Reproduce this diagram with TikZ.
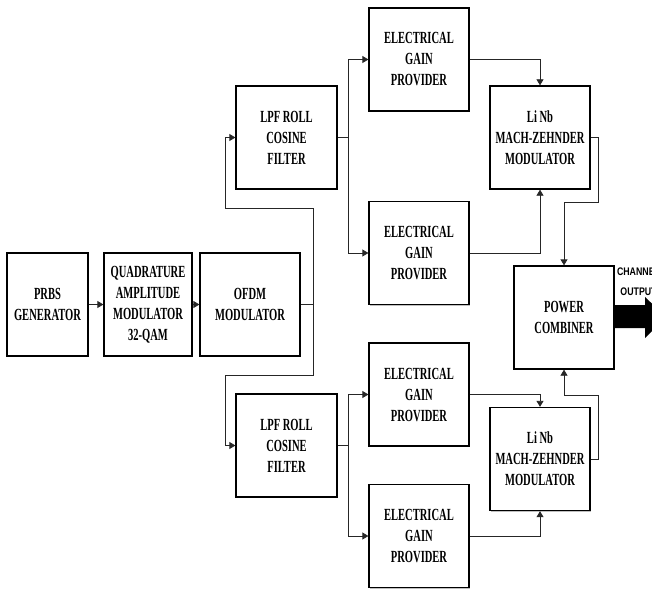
\documentclass[tikz,border=0pt]{standalone}
\usepackage{fontspec}
\newfontfamily\boxfont[FakeStretch=0.62]{Liberation Serif}
\newfontfamily\labfont[FakeStretch=0.8]{Liberation Sans}
\usetikzlibrary{arrows.meta,shadows}
\begin{document}
\begin{tikzpicture}[x=1pt,y=-1pt,
  blk/.style={draw=black,line width=1.3pt,fill=white,minimum height=103pt,inner sep=0pt,
    align=center,font=\boxfont\bfseries\fontsize{17}{21}\selectfont,
    drop shadow={shadow xshift=1.2pt,shadow yshift=-1.2pt,fill=black!25,opacity=1}},
  conn/.style={draw=black!85,line width=0.8pt},
  arr/.style={conn,-{Triangle[length=6pt,width=7pt]}}]
\useasboundingbox (0,0) rectangle (652,588);
\clip (0,0) rectangle (652,588);
% blocks
\node[blk,minimum width=81pt]  (prbs) at (47.5,304.5) {PRBS\\GENERATOR};
\node[blk,minimum width=88pt]  (qam)  at (148,304.5) {QUADRATURE\\AMPLITUDE\\MODULATOR\\32-QAM};
\node[blk,minimum width=100pt] (ofdm) at (250,304.5) {OFDM\\MODULATOR};
\node[blk,minimum width=101pt] (lpf1) at (286.5,137.5) {LPF ROLL\\COSINE\\FILTER};
\node[blk,minimum width=101pt] (lpf2) at (286.5,445.5) {LPF ROLL\\COSINE\\FILTER};
\node[blk,minimum width=100pt] (egp1) at (419,59.5) {ELECTRICAL\\GAIN\\PROVIDER};
\node[blk,minimum width=100pt] (egp2) at (419,253) {ELECTRICAL\\GAIN\\PROVIDER};
\node[blk,minimum width=100pt] (egp3) at (419,394.5) {ELECTRICAL\\GAIN\\PROVIDER};
\node[blk,minimum width=100pt] (egp4) at (419,536) {ELECTRICAL\\GAIN\\PROVIDER};
\node[blk,minimum width=100pt] (mzm1) at (540,137.5) {Li Nb\\MACH-ZEHNDER\\MODULATOR};
\node[blk,minimum width=100pt] (mzm2) at (540,459) {Li Nb\\MACH-ZEHNDER\\MODULATOR};
\node[blk,minimum width=100pt] (pc)   at (564,317.5) {POWER\\COMBINER};
% junction points
\coordinate (s)  at (313,304.5);
\coordinate (j1) at (313,208);
\coordinate (j2) at (225,208);
\coordinate (j3) at (313,375);
\coordinate (j4) at (225,375);
\coordinate (b1) at (348,137.5);
\coordinate (b2) at (348,445.5);
\coordinate (m1) at (598,137.5);
\coordinate (m1b) at (598,202);
\coordinate (m2) at (598,459);
\coordinate (m2b) at (598,395);
% connectors
\draw[arr] (prbs.east) -- (qam.west);
\draw[arr] (qam.east) -- (ofdm.west);
\draw[conn] (ofdm.east) -- (s);
\draw[arr] (s) -- (j1) -- (j2) |- (lpf1.west);
\draw[arr] (s) -- (j3) -- (j4) |- (lpf2.west);
\draw[conn] (lpf1.east) -- (b1);
\draw[arr] (b1) |- (egp1.west);
\draw[arr] (b1) |- (egp2.west);
\draw[conn] (lpf2.east) -- (b2);
\draw[arr] (b2) |- (egp3.west);
\draw[arr] (b2) |- (egp4.west);
\draw[arr] (egp1.east) -| (mzm1.north);
\draw[arr] (egp2.east) -| (mzm1.south);
\draw[arr] (egp3.east) -| (mzm2.north);
\draw[arr] (egp4.east) -| (mzm2.south);
\draw[arr] (mzm1.east) -- (m1) -- (m1b) -| (pc.north);
\draw[arr] (mzm2.east) -- (m2) -- (m2b) -| (pc.south);
% output arrow
\fill[black] (pc.east |- 0,305) -- (645,305) -- (645,297) -- (666,317) -- (645,338) -- (645,328) -- (pc.east |- 0,328) -- cycle;
\node[font=\labfont\bfseries\fontsize{11}{20}\selectfont,align=center,inner sep=0pt] (out) at (638.5,282) {CHANNEL\\OUTPUT};
\end{tikzpicture}
\end{document}
